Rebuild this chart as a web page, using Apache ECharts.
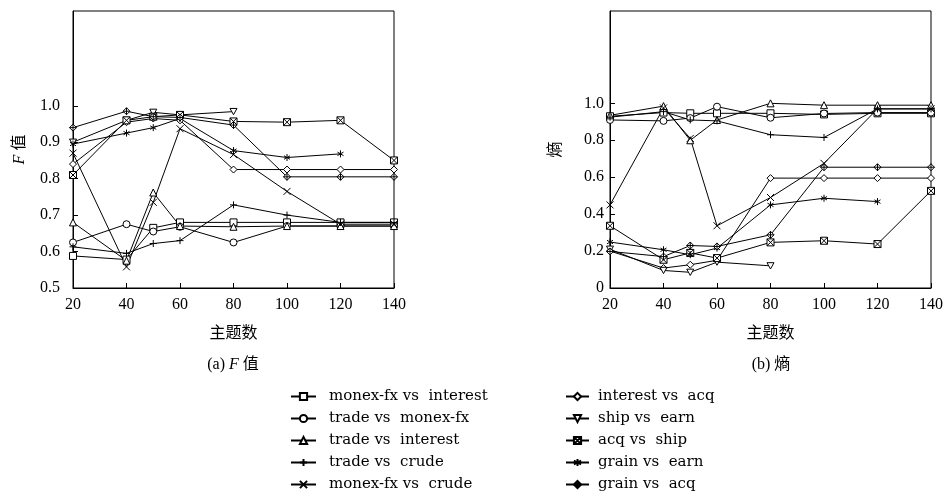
<!DOCTYPE html>
<html><head><meta charset="utf-8">
<script src="https://cdn.jsdelivr.net/npm/echarts@6/dist/echarts.min.js"></script>
<style>html,body{margin:0;padding:0;background:#fff}#c{width:946px;height:492px}</style>
</head><body><div id="c"></div>
<script>
// ---- data ----
const xs = [20, 40, 50, 60, 80, 100, 120, 140];
const seriesNames = ['monex-fx vs  interest', 'trade vs  monex-fx', 'trade vs  interest', 'trade vs  crude', 'monex-fx vs  crude',
                     'interest vs  acq', 'ship vs  earn', 'acq vs  ship', 'grain vs  earn', 'grain vs  acq'];
const xTicks = [20, 40, 60, 80, 100, 120, 140];
const fTicks = [0.5, 0.6, 0.7, 0.8, 0.9, 1.0];
const eTicks = [0, 0.2, 0.4, 0.6, 0.8, 1.0];

// F 值 (left)
const monexInterestF = [0.588, 0.578, 0.665, 0.680, 0.680, 0.680, 0.680, 0.680];
const tradeMonexF    = [0.625, 0.675, 0.655, 0.668, 0.625, 0.670, 0.670, 0.670];
const tradeInterestF = [0.680, 0.575, 0.762, 0.670, 0.668, 0.670, 0.670, 0.670];
const tradeCrudeF    = [0.613, 0.595, 0.622, 0.630, 0.728, 0.700, 0.680, 0.680];
const monexCrudeF    = [0.870, 0.558, 0.735, 0.937, 0.866, 0.765, 0.675, 0.675];
const interestAcqF   = [0.840, 0.955, 0.965, 0.960, 0.825, 0.825, 0.825, 0.825];
const shipEarnF      = [0.900, 0.960, 0.982, 0.975, 0.984, null, null, null];
const acqShipF       = [0.810, 0.960, 0.970, 0.975, 0.957, 0.955, 0.960, 0.850];
const grainEarnF     = [0.895, 0.925, 0.940, 0.965, 0.877, 0.858, 0.868, null];
const grainAcqF      = [0.940, 0.985, 0.970, 0.968, 0.947, 0.805, 0.805, 0.805];

// 熵 (right)
const monexInterestE = [0.930, 0.950, 0.946, 0.946, 0.946, 0.940, 0.946, 0.946];
const tradeMonexE    = [0.910, 0.905, 0.920, 0.982, 0.922, 0.945, 0.950, 0.950];
const tradeInterestE = [0.935, 0.985, 0.800, 0.910, 1.000, 0.990, 0.990, 0.990];
const tradeCrudeE    = [0.925, 0.955, 0.910, 0.905, 0.830, 0.815, 0.970, 0.970];
const monexCrudeE    = [0.450, 0.975, 0.810, 0.337, 0.490, 0.675, 0.970, 0.970];
const interestAcqE   = [0.200, 0.108, 0.126, 0.150, 0.595, 0.595, 0.595, 0.595];
const shipEarnE      = [0.210, 0.095, 0.085, 0.140, 0.120, null, null, null];
const acqShipE       = [0.337, 0.153, 0.190, 0.162, 0.247, 0.256, 0.238, 0.526];
const grainEarnE     = [0.249, 0.207, 0.180, 0.216, 0.450, 0.486, 0.468, null];
const grainAcqE      = [0.198, 0.170, 0.230, 0.225, 0.288, 0.654, 0.654, 0.654];

const leftData  = [monexInterestF, tradeMonexF, tradeInterestF, tradeCrudeF, monexCrudeF, interestAcqF, shipEarnF, acqShipF, grainEarnF, grainAcqF];
const rightData = [monexInterestE, tradeMonexE, tradeInterestE, tradeCrudeE, monexCrudeE, interestAcqE, shipEarnE, acqShipE, grainEarnE, grainAcqE];

// ---- style ----
const FONT = '"Liberation Serif", "Noto Sans CJK SC", serif';
const LFONT = '"DejaVu Serif", "Liberation Serif", serif';
const symbols = [
  'rect',
  'circle',
  'triangle',
  'path://M5,0L5,10M0,5L10,5',
  'path://M0,0L10,10M10,0L0,10',
  'diamond',
  'path://M0,0L10,0L5,9Z',
  'path://M0,0L10,0L10,10L0,10Z M0,0L10,10 M10,0L0,10',
  'path://M5,0L5,10M0.7,2.5L9.3,7.5M9.3,2.5L0.7,7.5',
  'path://M5,0L10,5L5,10L0,5Z M5,0L5,10 M0,5L10,5'
];

function mk(i, vals, gi) {
  const data = [];
  xs.forEach((x, k) => { if (vals[k] !== null) data.push([x, vals[k]]); });
  return {
    name: seriesNames[i], type: 'line', xAxisIndex: gi, yAxisIndex: gi,
    data, symbol: symbols[i], symbolSize: 7, symbolKeepAspect: true, showAllSymbol: true,
    lineStyle: { color: '#000', width: 1 },
    itemStyle: { color: '#fff', borderColor: '#000', borderWidth: 1 },
    emphasis: { disabled: true }, animation: false
  };
}
const series = [];
leftData.forEach((v, i) => series.push(mk(i, v, 0)));
rightData.forEach((v, i) => series.push(mk(i, v, 1)));

function xAxis(gi) {
  return {
    gridIndex: gi, type: 'value', min: 20, max: 140, interval: 20,
    name: '主题数', nameLocation: 'middle', nameGap: 38,
    nameTextStyle: { fontFamily: FONT, fontSize: 16, color: '#000' },
    axisLine: { lineStyle: { color: '#000', width: 1 } },
    axisTick: { inside: true, length: 5, lineStyle: { color: '#000' } },
    axisLabel: { fontFamily: FONT, fontSize: 16, color: '#000', margin: 9 },
    splitLine: { show: false }
  };
}
const legendCommon = {
  orient: 'vertical', top: 384, height: 110, itemHeight: 9, itemGap: 7, selectedMode: false
};
const option = {
  animation: false,
  backgroundColor: '#fff',
  grid: [
    { left: 73, top: 11, width: 321, height: 277, show: true, borderColor: '#000', borderWidth: 1 },
    { left: 610, top: 11, width: 321, height: 277, show: true, borderColor: '#000', borderWidth: 1 }
  ],
  xAxis: [xAxis(0), xAxis(1)],
  yAxis: [
    {
      gridIndex: 0, type: 'value', min: 0.5, max: 1.26,
      name: '{i|F} 值', nameLocation: 'middle', nameGap: 45, nameRotate: 90,
      nameTextStyle: { fontFamily: FONT, fontSize: 16, color: '#000', rich: { i: { fontFamily: FONT, fontSize: 16, fontStyle: 'italic' } } },
      axisLine: { lineStyle: { color: '#000', width: 1 } },
      axisTick: { inside: true, length: 5, customValues: fTicks, lineStyle: { color: '#000' } },
      axisLabel: { fontFamily: FONT, fontSize: 16, color: '#000', margin: 13, customValues: fTicks, formatter: v => v.toFixed(1) },
      splitLine: { show: false }
    },
    {
      gridIndex: 1, type: 'value', min: 0, max: 1.5,
      name: '熵', nameLocation: 'middle', nameGap: 46, nameRotate: 90,
      nameTextStyle: { fontFamily: FONT, fontSize: 16, color: '#000' },
      axisLine: { lineStyle: { color: '#000', width: 1 } },
      axisTick: { inside: true, length: 5, customValues: eTicks, lineStyle: { color: '#000' } },
      axisLabel: { fontFamily: FONT, fontSize: 16, color: '#000', margin: 6, customValues: eTicks, formatter: v => (v === 0 ? '0' : v.toFixed(1)) },
      splitLine: { show: false }
    }
  ],
  legend: [
    Object.assign({}, legendCommon, {
      data: seriesNames.slice(0, 5), left: 285, itemWidth: 25,
      textStyle: { fontFamily: LFONT, fontSize: 15, lineHeight: 15, color: '#000', padding: [0, 0, 0, 8] }
    }),
    Object.assign({}, legendCommon, {
      data: seriesNames.slice(5), left: 560, itemWidth: 23,
      textStyle: { fontFamily: LFONT, fontSize: 15, lineHeight: 15, color: '#000', padding: [0, 0, 0, 4] }
    })
  ],
  graphic: [
    { type: 'text', x: 233, y: 365, style: { text: '(a) {i|F} 值', align: 'center', verticalAlign: 'middle', font: '16px ' + FONT, fill: '#000',
      rich: { i: { fontFamily: FONT, fontSize: 16, fontStyle: 'italic' } } } },
    { type: 'text', x: 771, y: 365, style: { text: '(b) 熵', align: 'center', verticalAlign: 'middle', font: '16px ' + FONT, fill: '#000' } }
  ],
  series
};
const chart = echarts.init(document.getElementById('c'), null, { renderer: 'canvas' });
chart.setOption(option);
</script>
</body></html>
